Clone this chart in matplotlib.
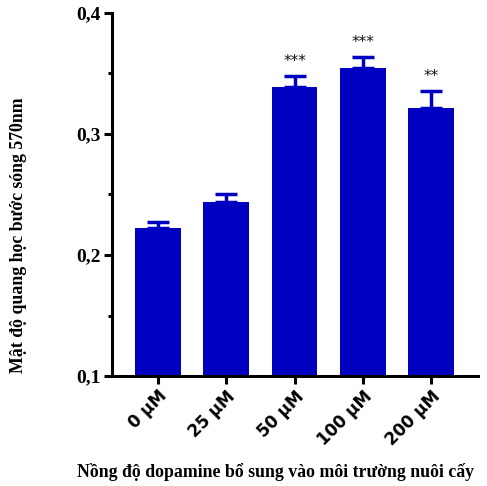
import numpy as np
import matplotlib.pyplot as plt

labels = ['0 µM', '25 µM', '50 µM', '100 µM', '200 µM']
values = [0.2223, 0.2438, 0.3388, 0.3545, 0.3215]
errors = [0.005, 0.0066, 0.009, 0.009, 0.014]
stars = ['', '', '***', '***', '**']

BLUE = '#0000c0'
SERIF = 'Liberation Serif'

fig = plt.figure(figsize=(4.87, 4.86), dpi=100)
ax = fig.add_axes([0.23, 0.2263, 0.751, 0.747])

x = np.arange(len(values))
ax.bar(x, values, 0.67, color=BLUE, zorder=2)
ax.errorbar(x, values, yerr=[np.zeros(len(errors)), errors], fmt='none',
            ecolor=BLUE, elinewidth=2.5, capsize=8, capthick=2.5, zorder=1)

for xi, v, e, s in zip(x, values, errors, stars):
    if s:
        ax.text(xi, v + e + 0.006, s, ha='center', va='bottom',
                fontsize=11, color='#111111')

ax.set_xlim(-0.67, 4.68)
ax.set_ylim(0.1, 0.4)
ax.set_yticks([0.1, 0.2, 0.3, 0.4])
ax.set_yticklabels(['0,1', '0,2', '0,3', '0,4'], fontfamily=SERIF,
                   fontweight='bold', fontsize=14)
ax.set_yticks([0.15, 0.25, 0.35], minor=True)
ax.set_xticks(x)
ax.set_xticklabels(labels, rotation=45, ha='right', rotation_mode='anchor',
                   fontfamily='DejaVu Sans', fontweight='heavy', fontsize=12)

for side in ['top', 'right']:
    ax.spines[side].set_visible(False)
for side in ['left', 'bottom']:
    ax.spines[side].set_linewidth(2.2)
ax.tick_params(axis='both', which='major', length=6, width=2.2, direction='out',
               pad=2)
ax.tick_params(axis='y', which='minor', length=3, width=2.2)

fig.text(0.037, 0.516, 'Mật độ quang học bước sóng 570nm', rotation=90,
         ha='center', va='center', fontfamily=SERIF, fontweight='bold',
         fontsize=12.8)
fig.text(0.158, 0.028, 'Nồng độ dopamine bổ sung vào môi trường nuôi cấy',
         ha='left', va='center', fontfamily=SERIF, fontweight='bold',
         fontsize=12.8)

fig.savefig('out.png', dpi=100)
